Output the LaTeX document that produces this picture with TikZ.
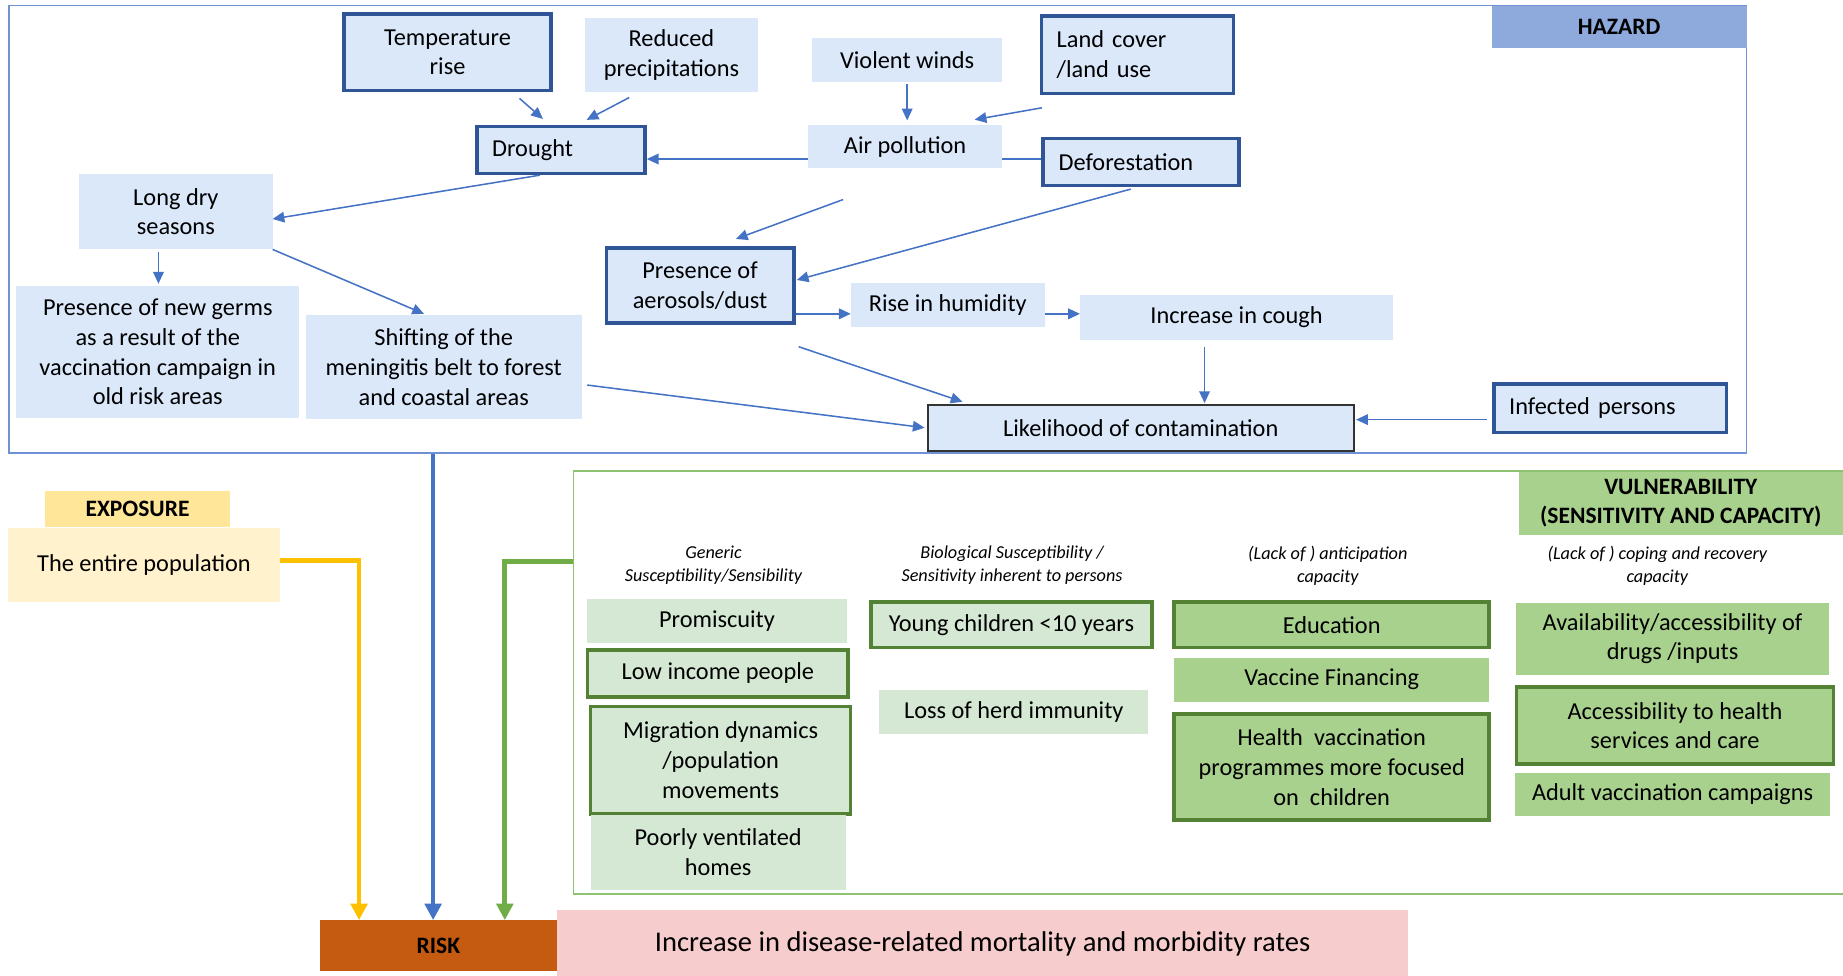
\documentclass[tikz,border=0pt]{standalone}
\usepackage{fontspec}
\setmainfont{Carlito}
\usetikzlibrary{arrows.meta,calc}
\definecolor{hzfill}{RGB}{218,232,250}
\definecolor{hzdark}{RGB}{47,85,151}
\definecolor{arrblue}{RGB}{68,114,196}
\definecolor{hzframecol}{RGB}{112,146,212}
\definecolor{hzlabel}{RGB}{142,169,219}
\definecolor{lgreen}{RGB}{213,232,212}
\definecolor{mgreen}{RGB}{169,209,142}
\definecolor{dgreen}{RGB}{84,130,53}
\definecolor{vframecol}{RGB}{141,194,111}
\definecolor{expolabel}{RGB}{255,230,153}
\definecolor{popfill}{RGB}{255,242,204}
\definecolor{yarrow}{RGB}{255,192,0}
\definecolor{garrow}{RGB}{112,173,71}
\definecolor{riskfill}{RGB}{197,90,17}
\definecolor{outfill}{RGB}{246,204,204}
\newcommand\mainfs{\fontsize{20.7}{25.3}\selectfont}
\newcommand\hdrfs{\fontsize{15.5}{19.6}\selectfont}
\newcommand\labfs{\fontsize{20}{25}\selectfont}
\newcommand\outfs{\fontsize{24.3}{29}\selectfont}
\newcommand\bx[7]{\node[#1, minimum width={(#5-#3)*1pt}, minimum height={(#6-#4)*1pt}] (#2) at ({(#3+#5)/2},{(#4+#6)/2}) {#7};}
\tikzset{
 base/.style={inner sep=0pt, align=center, font=\mainfs},
 hz/.style={base, fill=hzfill},
 hzb/.style={hz, draw=hzdark, line width=3pt},
 hzl/.style={hzb, align=left, text width=#1},
 lg/.style={base, fill=lgreen},
 lgb/.style={lg, draw=dgreen, line width=3pt},
 mg/.style={base, fill=mgreen},
 mgb/.style={mg, draw=dgreen, line width=3pt},
 arr/.style={draw=arrblue, line width=1.3pt, -{Triangle[length=10pt,width=9pt]}},
 ln/.style={draw=arrblue, line width=1.3pt},
 big/.style={line width=4pt, -{Triangle[length=14pt,width=14pt]}},
 hdr/.style={inner sep=0pt, align=center, font=\hdrfs\itshape},
 lab/.style={inner sep=0pt, align=center, font=\labfs\bfseries},
 frame/.style={inner sep=0pt, line width=1.3pt},
}
\begin{document}
\begin{tikzpicture}[x=1pt,y=-1pt]
\useasboundingbox (0,0) rectangle (1568,830);
% frames
\bx{frame, draw=hzframecol}{hazard}{7.6}{4.8}{1486}{385.5}{}
\bx{lab, fill=hzlabel}{hzlab}{1269}{5.5}{1486}{40.5}{HAZARD}
\bx{frame, draw=vframecol}{vul}{488}{400.5}{1580}{760.6}{}
\bx{lab, fill=mgreen}{vullab}{1292}{401.5}{1568}{455}{VULNERABILITY\\(SENSITIVITY AND CAPACITY)}
% hazard nodes
\bx{hzb}{tr}{292.5}{11.9}{469}{77}{Temperature\\rise}
\bx{hz}{rp}{497.5}{15.6}{645}{78}{Reduced\\precipitations}
\bx{hz}{vw}{691}{32.6}{852.6}{69.5}{Violent winds}
\bx{hzl=137.5pt}{lc}{886}{13.6}{1049.5}{79.4}{Land cover\\/land use}
\bx{hzl=117pt}{dr}{405.6}{107.8}{548.8}{147.5}{Drought}
\bx{hz}{ap}{687.5}{106.3}{852.6}{143}{Air pollution}
\bx{hzl=140pt}{df}{887.4}{117.7}{1054}{158}{Deforestation}
\bx{hz}{ld}{67.2}{148.3}{232}{212}{Long dry\\seasons}
\bx{hz}{pg}{14}{243}{254.5}{356}{Presence of new germs\\as a result of the\\vaccination campaign in\\old risk areas}
\bx{hz}{sh}{260.2}{268}{494.9}{356.7}{Shifting of the\\meningitis belt to forest\\and coastal areas}
\bx{hzb}{pa}{515.8}{211}{675.3}{275}{Presence of\\aerosols/dust}
\bx{hz}{rh}{724}{240.5}{888.8}{278.5}{Rise in humidity}
\bx{hz}{ic}{919}{251}{1185}{289}{Increase in cough}
\bx{hz, draw=black!80, line width=1.5pt}{lk}{789.4}{344.6}{1151.7}{383.4}{Likelihood of contamination}
\bx{hzl=172pt}{ip}{1271}{326.7}{1469}{367.8}{Infected persons}
% hazard connectors
\coordinate (ly) at (0,135.3);
\coordinate (gx) at (134.8,0);
\coordinate (hy) at (0,267);
\coordinate (cx) at (1024.8,0);
\coordinate (iy) at (0,357);
\draw[arr] ($(tr.south east)+(-28.5,5.2)$) -- ($(dr.north west)+(57.8,-5.1)$);
\draw[arr] ($(rp.south west)+(38,4.8)$) -- ($(dr.north west)+(95,-4.3)$);
\draw[arr] ($(vw.south)+(0,2)$) -- ($(vw.south |- ap.north)+(0,-3.6)$);
\draw[arr] ($(lc.south west)+(2,10.8)$) -- ($(ap.north east)+(-23.6,-4.3)$);
\draw[ln] (df.west |- ly) -- (ap.east |- ly);
\draw[arr] (ap.west |- ly) -- (dr.east |- ly);
\draw[arr] ($(dr.south)+(-17.7,0)$) -- ($(ld.east)+(-0.3,6.2)$);
\draw[arr] ($(gx |- ld.south)+(0,2)$) -- ($(gx |- pg.north)+(0,-1.4)$);
\draw[arr] ($(ld.south east)+(-0.3,0)$) -- ($(sh.north)+(-16.8,-0.8)$);
\draw[arr] ($(ap.south)+(-52.8,26.6)$) -- ($(pa.north)+(30.5,-6.2)$);
\draw[arr] ($(df.south)+(-8.7,1.4)$) -- ($(pa.east)+(1.1,-4.8)$);
\draw[arr] (pa.east |- hy) -- (rh.west |- hy);
\draw[arr] (rh.east |- hy) -- (ic.west |- hy);
\draw[arr] ($(cx |- ic.south)+(0,6)$) -- ($(cx |- lk.north)+(0,-0.9)$);
\draw[arr] ($(pa.south east)+(2.7,18.5)$) -- ($(lk.north west)+(30.3,-2)$);
\draw[arr] ($(sh.east)+(4.5,15.25)$) -- ($(lk.west)+(-2,-0.1)$);
\draw[arr] ($(ip.west |- iy)+(-4.4,0)$) -- ($(lk.east |- iy)+(1.3,0)$);
% exposure
\bx{lab, fill=expolabel}{explab}{38}{418}{196}{448.5}{EXPOSURE}
\bx{base, fill=popfill}{pop}{7}{449}{238}{512}{The entire population}
% vulnerability column headers
\node[hdr] (h1) at (607,481) {Generic\\Susceptibility/Sensibility};
\node[hdr] (h2) at (861,481) {Biological Susceptibility /\\Sensitivity inherent to persons};
\node[hdr] (h3) at (1129.7,481) {(Lack of ) anticipation\\capacity};
\node[hdr] (h4) at (1410,481) {(Lack of ) coping and recovery\\capacity};
% vulnerability nodes
\bx{lg}{pm}{499}{510}{721}{547}{Promiscuity}
\bx{lgb}{li}{500}{553}{721.5}{593}{Low income people}
\bx{lgb}{md}{502.5}{601}{723.7}{692.5}{Migration dynamics\\/population\\movements}
\bx{lg}{pv}{502.5}{693.4}{719.5}{757}{Poorly ventilated\\homes}
\bx{lgb}{yc}{741}{512}{980}{551}{Young children <10 years}
\bx{lg}{lh}{748}{587}{977}{624.5}{Loss of herd immunity}
\bx{mgb}{ed}{999}{512}{1267}{551}{Education}
\bx{mg}{vf}{999}{559.5}{1267}{597}{Vaccine Financing}
\bx{mgb}{hv}{999}{607.5}{1267}{697.6}{Health~ vaccination\\programmes more focused\\on~ children}
\bx{mg}{av}{1290}{512.8}{1556}{574}{Availability/accessibility of\\drugs /inputs}
\bx{mgb}{ah}{1290}{584.6}{1560}{650}{Accessibility to health\\services and care}
\bx{mg}{ad}{1289}{657.4}{1557}{694}{Adult vaccination campaigns}
% risk
\bx{lab, fill=riskfill}{risk}{272}{783}{474}{826}{RISK}
\bx{base, fill=outfill, font=\outfs}{out}{474}{774}{1198}{832}{Increase in disease-related mortality and morbidity rates}
% thick connectors
\coordinate (yx) at (305.5,477);
\coordinate (bxx) at (368.5,0);
\coordinate (gxx) at (429.5,478);
\draw[big, draw=yarrow] (pop.east |- yx) -| (risk.north -| yx);
\draw[big, draw=arrblue] (hazard.south -| bxx) -- (risk.north -| bxx);
\draw[big, draw=garrow] (vul.west |- gxx) -| (risk.north -| gxx);
\end{tikzpicture}
\end{document}
